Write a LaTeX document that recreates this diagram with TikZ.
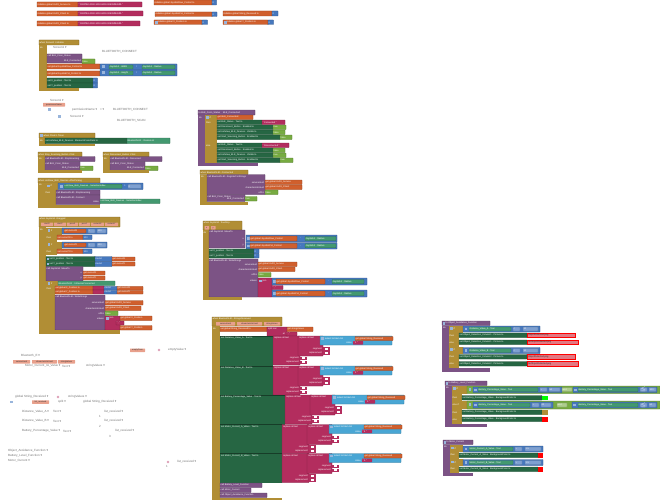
\documentclass[tikz,border=0pt]{standalone}
\usepackage{fontspec}
\setmainfont{Liberation Sans}
\newfontfamily\dv{DejaVu Sans}
\definecolor{ctl}{RGB}{177,142,53}
\definecolor{prc}{RGB}{124,83,133}
\definecolor{var}{RGB}{208,95,45}
\definecolor{txt}{RGB}{179,45,94}
\definecolor{mth}{RGB}{70,120,190}
\definecolor{cset}{RGB}{38,102,67}
\definecolor{cget}{RGB}{67,153,112}
\definecolor{lgc}{RGB}{119,171,65}
\definecolor{lst}{RGB}{73,166,212}
\definecolor{prm}{RGB}{232,160,140}
\definecolor{redbox}{RGB}{226,120,130}
\newcounter{bkc}
\tikzset{
 bt/.style={font=\fontsize{2.3}{2.6}\selectfont, text=white, inner sep=0pt, anchor=west},
 gtx/.style={font=\fontsize{3}{3.4}\selectfont, text=black!55, inner sep=0pt, anchor=west},
 ptx/.style={font=\fontsize{2.1}{2.4}\selectfont, text=black!80, inner sep=0pt},
 dtx/.style={font=\fontsize{2.3}{2.6}\selectfont, text=black!80, inner sep=0pt, anchor=west},
}
\newcommand{\Dd}{{\dv\char"25BE}}
\newcommand{\Nd}[3][bt]{\stepcounter{bkc}\node[#1] (b\arabic{bkc}) at #2 {#3};}
\newcommand{\Bk}[6]{\filldraw[fill=#5,draw=#5!72!black,line width=0.25pt,rounded corners=0.4pt] (#1,#2) rectangle ++(#3,#4);\Nd{({#1+0.5},{#2+#4/2})}{#6}}
\newcommand{\Bkt}[6]{\filldraw[fill=#5,draw=#5!72!black,line width=0.25pt,rounded corners=0.4pt] (#1,#2) rectangle ++(#3,#4);\Nd{({#1+0.5},{#2+2.3})}{#6}}
\newcommand{\Sq}[5]{\fill[#5] (#1,#2) rectangle ++(#3,#4);}
\newcommand{\Lr}[3]{\Nd[bt,anchor=east]{(#1,#2)}{#3}}
\newcommand{\Lw}[3]{\Nd{(#1,#2)}{#3}}
\newcommand{\Gt}[3]{\Nd[gtx]{(#1,#2)}{#3}}
\newcommand{\Pb}[4]{\fill[prm,rounded corners=0.4pt] (#1,#2) rectangle ++(#3,3.5);\Nd[ptx]{({#1+#3/2},{#2+1.75})}{#4}}
\newcommand{\Gr}[2]{\fill[mth!55!white] (#1,#2) rectangle ++(2.6,2.6);}
\newcommand{\Rb}[4]{\fill[redbox,draw=red,line width=0.3pt] (#1,#2) rectangle ++(#3,4.5);\Nd[dtx]{({#1+0.8},{#2+2.25})}{#4}}
% group: y0, label, xm, index, height
\newcommand{\Grp}[5]{%
 \fill[cset] (220,#1) rectangle (#3,{#1+#5});
 \draw[cset!60!black,line width=0.25pt] (220,#1) -- (#3,#1);
 \Nd{(221,{#1+2.3})}{#2}
 \filldraw[fill=txt,draw=txt!72!black,line width=0.25pt,rounded corners=0.4pt] (#3,#1) rectangle ({#3+27},{#1+29});
 \Nd{({#3+1},{#1+2.3})}{replace all text}
 \Nd[bt,anchor=east]{({#3+26},{#1+22.2})}{segment}
 \Nd[bt,anchor=east]{({#3+26},{#1+26.2})}{replacement}
 \fill[txt] ({#3+27},{#1+20.5}) rectangle ++(7,3.5);
 \fill[white] ({#3+29},{#1+21.2}) rectangle ++(2.6,2.1);
 \fill[txt] ({#3+27},{#1+24.5}) rectangle ++(7,3.5);
 \fill[white] ({#3+29},{#1+25.2}) rectangle ++(2.6,2.1);
 \filldraw[fill=txt,draw=txt!72!black,line width=0.25pt,rounded corners=0.4pt] ({#3+25},#1) rectangle ({#3+50},{#1+20});
 \Nd{({#3+26},{#1+2.3})}{replace all text}
 \Nd[bt,anchor=east]{({#3+49},{#1+12.7})}{segment}
 \Nd[bt,anchor=east]{({#3+49},{#1+16.7})}{replacement}
 \fill[txt] ({#3+50},{#1+11}) rectangle ++(7,3.5);
 \fill[white] ({#3+52},{#1+11.7}) rectangle ++(2.6,2.1);
 \fill[txt] ({#3+50},{#1+15}) rectangle ++(7,3.5);
 \fill[white] ({#3+52},{#1+15.7}) rectangle ++(2.6,2.1);
 \filldraw[fill=lst,draw=lst!72!black,line width=0.25pt,rounded corners=0.4pt] ({#3+47},#1) rectangle ({#3+119},{#1+9});
 \fill[mth!55!white] ({#3+48},{#1+1}) rectangle ++(2.6,2.6);
 \Nd{({#3+52},{#1+2.3})}{select list item  list}
 \Nd[bt,anchor=east]{({#3+79},{#1+6.8})}{index}
 \filldraw[fill=var,draw=var!72!black,line width=0.25pt,rounded corners=0.4pt] ({#3+82},{#1+0.5}) rectangle ++(38,4);
 \Nd{({#3+82.5},{#1+2.5})}{get global String\_Received}
 \fill[txt,rounded corners=0.4pt] ({#3+80},{#1+5}) rectangle ++(10,3.6);
 \Nd{({#3+80.5},{#1+6.8})}{" #4 "}
}
\begin{document}
\begin{tikzpicture}[x=1pt,y=-1pt]
\useasboundingbox (0,0) rectangle (660,500);
\fill[white] (0,0) rectangle (660,500);

% ---------- top row ----------
\Bk{37}{2}{41}{5}{var}{initialize global UUID\_Service to}
\Bk{78}{2}{64}{5}{txt}{" 0000ffe0-0000-1000-8000-00805f9b34fb "}
\Bk{37}{11}{41}{5}{var}{initialize global UUID\_Char1 to}
\Bk{78}{11}{65}{5}{txt}{" 0000ffe1-0000-1000-8000-00805f9b34fb "}
\Bk{37}{21}{41}{5}{var}{initialize global UUID\_Char2 to}
\Bk{78}{21}{62}{5}{txt}{" 0000ffe2-0000-1000-8000-00805f9b34fb "}
\Bk{154}{0}{58}{5}{var}{initialize global JoystickRow\_Control to}
\Bk{212}{0}{4.5}{5}{mth}{0}
\Bk{155}{12}{57}{4.5}{var}{initialize global JoystickCol\_Control to}
\Bk{212}{12}{5}{4.5}{mth}{0}
\Bk{154}{20}{48}{4.5}{var}{\hspace{3pt}initialize global X\_Position to}\Gr{155}{21}
\Bk{202}{20}{5.5}{4.5}{mth}{0}
\Bk{223}{11}{49}{5}{var}{initialize global String\_Received to}
\Bk{272}{11}{6}{5}{mth}{0}
\Bk{223}{20}{45}{4.5}{var}{\hspace{3pt}initialize global Y\_Position to}\Gr{224}{21}
\Bk{268}{20}{5.5}{4.5}{mth}{0}

% ---------- Screen1.Initialize ----------
\Bk{39}{40}{40}{5}{ctl}{when Screen1 .Initialize}
\Sq{39}{45}{8}{46}{ctl}\Lw{40}{47.5}{do}
\Bkt{47}{54}{35}{9}{prc}{call BLE\_Conn\_Status}
\Lr{81}{61}{BLE\_Connected}
\Bk{82}{59}{13}{5}{lgc}{false}
\Bk{47}{64}{53}{5}{var}{set global JoystickRow\_Control to}
\Bk{100}{64}{77}{6}{mth}{}\Gr{102}{65.5}
\Bk{109}{65}{24}{4}{cget}{Joystick1 . Width}\Lw{136}{67}{/}
\Bk{142}{65}{33}{4}{cget}{Joystick1 . Radius}
\Bk{47}{71}{53}{5}{var}{set global JoystickCol\_Control to}
\Bk{100}{70}{77}{6}{mth}{}\Gr{102}{71.5}
\Bk{109}{71}{24}{4}{cget}{Joystick1 . Height}\Lw{136}{73}{/}
\Bk{142}{71}{33}{4}{cget}{Joystick1 . Radius}
\Bk{47}{78}{46}{5}{cset}{set X\_position . Text to}
\Bk{93}{78}{4.5}{5}{mth}{0}
\Bk{47}{83}{46}{5}{cset}{set Y\_position . Text to}
\Bk{93}{83}{4.5}{5}{mth}{0}
\Sq{39}{88}{40}{3}{ctl}
\Gt{53}{47.5}{Screen1 \Dd}
\Gt{102}{52}{BLUETOOTH\_CONNECT}

% ghost permission blocks
\Gt{50}{100}{Screen1 \Dd}
\Pb{43}{103}{22}{permissionName}
\Sq{48}{108}{3}{3}{mth!55!white}
\Gt{72}{110}{permissionName \Dd\quad = \Dd}
\Gt{113}{110}{BLUETOOTH\_CONNECT}
\Sq{58}{115}{3}{3}{mth!55!white}
\Gt{70}{116.5}{Screen1 \Dd}
\Gt{117}{121}{BLUETOOTH\_SCAN}

% ---------- Clock1.Timer ----------
\Bk{39}{133}{56}{5}{ctl}{\hspace{4pt}when Clock1 .Timer}\Sq{39.5}{134}{3}{3}{mth!55!white}
\Sq{39}{138}{7}{6}{ctl}\Lw{40}{140.5}{do}
\Bk{45}{138}{82}{5.5}{cset}{set ListView\_BLE\_Devices . ElementsFromPairs to}
\Bk{127}{138}{43}{5.5}{cget}{BluetoothLE1 . DeviceList}
\Sq{39}{143.5}{56}{2.5}{ctl}

% ---------- Stop_Scanning_Button.Click ----------
\Bk{38}{152}{44}{5}{ctl}{when Stop\_Scanning\_Button .Click}
\Sq{38}{157}{7}{15}{ctl}\Lw{39}{159}{do}
\Bk{45}{156.5}{50}{5}{prc}{call BluetoothLE1 .StopScanning}
\Bkt{45}{161.5}{35}{9}{prc}{call BLE\_Conn\_Status}
\Lr{79}{168}{BLE\_Connected}
\Bk{80}{166}{13}{4.5}{lgc}{true}
\Sq{38}{170}{44}{2.5}{ctl}

% ---------- Disconnect_Button.Click ----------
\Bk{103}{152}{46}{5}{ctl}{when Disconnect\_Button .Click}
\Sq{103}{157}{7}{15}{ctl}\Lw{104}{159}{do}
\Bk{110}{156.5}{52}{5}{prc}{call BluetoothLE1 .Disconnect}
\Bkt{110}{161.5}{35}{9}{prc}{call BLE\_Conn\_Status}
\Lr{144}{168}{BLE\_Connected}
\Bk{145}{166}{13}{4.5}{lgc}{false}
\Sq{103}{170}{46}{2.5}{ctl}

% ---------- ListView AfterPicking ----------
\Bk{38}{178}{62}{5}{ctl}{when ListView\_BLE\_Devices .AfterPicking}
\Sq{38}{183}{7}{24}{ctl}\Lw{39}{185}{do}
\Sq{45}{183}{13}{7}{ctl}\Sq{45}{190}{11}{15}{ctl}
\Gr{47}{184.5}\Lw{50.5}{186}{if}\Lw{45.5}{192.5}{then}
\Bk{58}{183}{85}{6.5}{mth}{}\Gr{60}{185}
\Bk{64}{184.2}{58}{4.2}{cget}{ListView\_BLE\_Devices . SelectionIndex}
\Lw{124}{186.3}{>}
\Bk{128}{184.2}{13}{4.2}{mth!70!white}{0}
\Bk{56}{190}{44}{5}{prc}{call BluetoothLE1 .StopScanning}
\Bkt{56}{195}{44}{9.5}{prc}{call BluetoothLE1 .Connect}
\Lr{99}{201.5}{index}
\Bk{100}{199}{60}{4.5}{cget}{ListView\_BLE\_Devices . SelectionIndex}
\Sq{38}{204.5}{62}{3}{ctl}

% ---------- Joystick1.Dragged ----------
\Bkt{39}{217}{81}{10}{ctl}{when Joystick1 .Dragged}
\Pb{41}{222.5}{12}{startX}\Pb{54}{222.5}{12}{startY}\Pb{67}{222.5}{11}{prevX}
\Pb{79}{222.5}{11}{prevY}\Pb{91}{222.5}{13}{currentX}\Pb{105}{222.5}{13}{currentY}
\Sq{39}{227}{7}{107}{ctl}\Lw{40}{229.5}{do}
% if 1
\Sq{46}{227.5}{16}{7}{ctl}\Sq{46}{234.5}{11}{7}{ctl}
\Gr{47.5}{229}\Lw{51}{230.8}{if}\Lw{46.5}{237.3}{then}
\Bk{62}{228}{45}{6}{mth}{}
\Bk{64}{229}{22}{4}{var}{get currentX}
\Bk{88}{229}{7}{4}{mth!70!white}{>}
\Bk{97}{229}{9}{4}{mth!70!white}{100}
\Bk{57}{235}{26}{4.5}{var}{set currentX to}
\Bk{83}{235}{9}{4.5}{mth}{100}
% if 2
\Sq{46}{241.5}{16}{7}{ctl}\Sq{46}{248.5}{11}{6.5}{ctl}
\Gr{47.5}{243}\Lw{51}{244.8}{if}\Lw{46.5}{251.3}{then}
\Bk{62}{242}{45}{6}{mth}{}
\Bk{64}{243}{22}{4}{var}{get currentY}
\Bk{88}{243}{7}{4}{mth!70!white}{>}
\Bk{97}{243}{9}{4}{mth!70!white}{100}
\Bk{57}{249}{26}{4.5}{var}{set currentY to}
\Bk{83}{249}{9}{4.5}{mth}{100}
% set labels
\Bk{46}{256.5}{49}{5}{cset}{\hspace{3pt}set X\_position . Text to}\Gr{46.5}{257.5}
\Bk{95}{256.5}{17}{5}{mth}{round}
\Bk{112}{257}{23}{4}{var}{get currentX}
\Bk{46}{261.5}{49}{5}{cset}{\hspace{3pt}set Y\_position . Text to}\Gr{46.5}{262.5}
\Bk{95}{261.5}{17}{5}{mth}{round}
\Bk{112}{262}{23}{4}{var}{get currentY}
% moveTo
\Bkt{46}{266.5}{37}{14.5}{prc}{call Joystick1 .MoveTo}
\Lr{82}{273}{x}\Lr{82}{278}{y}
\Bk{83}{271}{22}{4}{var}{get currentX}
\Bk{83}{276}{22}{4}{var}{get currentY}
% if 3
\Sq{46}{281}{12}{5}{ctl}\Sq{46}{286}{9}{44}{ctl}
\Gr{47.5}{282}\Lw{51}{283.5}{if}\Lw{46.5}{288.5}{then}
\Bk{58}{281}{57}{4.5}{cget}{BluetoothLE1 . IsDeviceConnected}
\Bk{55}{286}{38}{4}{var}{set global X\_Position to}
\Bk{93}{286}{11}{4}{txt}{}
\Bk{104}{286.3}{13}{3.7}{mth}{round}
\Bk{117}{286.3}{26}{3.7}{var}{get currentX}
\Bk{55}{290}{38}{4}{var}{set global Y\_Position to}
\Bk{93}{290}{11}{4}{txt}{}
\Bk{104}{290.3}{13}{3.7}{mth}{round}
\Bk{117}{290.3}{26}{3.7}{var}{get currentY}
\Bkt{55}{295}{50}{35}{prc}{call BluetoothLE1 .WriteStrings}
\Lr{104}{303}{serviceUuid}
\Lr{104}{308.3}{characteristicUuid}
\Lr{104}{313.3}{utf16}
\Lr{104}{318.5}{values}
\Bk{105}{300.5}{38}{4.5}{var}{get global UUID\_Service}
\Bk{105}{306}{36}{4.5}{var}{get global UUID\_Char1}
\Bk{105}{311}{13}{4.5}{lgc}{false}
\filldraw[fill=txt,draw=txt!72!black,line width=0.25pt,rounded corners=0.4pt] (105,316) rectangle (120,330);
\Gr{106}{317}\Lw{109.5}{318.3}{join}
\Bk{120}{316}{32}{4.5}{var}{get global X\_Position}
\Bk{116}{321}{8}{4}{txt}{" , "}
\Bk{120}{325.5}{32}{4.5}{var}{get global Y\_Position}
\Sq{39}{330}{81}{4}{ctl}

% ---------- BLE_Conn_Status procedure ----------
\Bk{198}{110}{57}{5}{prc}{to BLE\_Conn\_Status \quad BLE\_Connected}
\Sq{198}{115}{7}{51}{prc}\Lw{199}{117.5}{do}
\Sq{205}{115}{12}{48}{ctl}
\Gr{206}{116}\Lw{209.5}{117.5}{if}\Lw{206}{122.5}{then}\Lw{206}{145.5}{else}
\Bk{217}{115}{36}{4.5}{var}{get BLE\_Connected}
\Bk{217}{120}{45}{4.5}{cset}{set BLE\_Status . Text to}
\Bk{262}{120}{23}{4.5}{txt}{" Connected "}
\Bk{217}{125}{56}{4.5}{cset}{set Disconnect\_Button . Enabled to}
\Bk{273}{125}{13}{4.5}{lgc}{true}
\Bk{217}{130}{56}{4.5}{cset}{set ListView\_BLE\_Devices . Visible to}
\Bk{273}{130}{12}{4.5}{lgc}{false}
\Bk{217}{135}{63}{4.5}{cset}{set Start\_Scanning\_Button . Enabled to}
\Bk{280}{135}{12}{4.5}{lgc}{false}
\Bk{217}{143}{45}{4.5}{cset}{set BLE\_Status . Text to}
\Bk{262}{143}{27}{4.5}{txt}{" Disconnected "}
\Bk{217}{148}{56}{4.5}{cset}{set Disconnect\_Button . Enabled to}
\Bk{273}{148}{12}{4.5}{lgc}{false}
\Bk{217}{153}{56}{4.5}{cset}{set ListView\_BLE\_Devices . Visible to}
\Bk{273}{153}{13}{4.5}{lgc}{true}
\Bk{217}{158}{63}{4.5}{cset}{set Start\_Scanning\_Button . Enabled to}
\Bk{280}{158}{13}{4.5}{lgc}{true}
\Sq{198}{162.5}{60}{3.5}{prc}

% ---------- BluetoothLE1.Connected ----------
\Bk{200}{170}{48}{4.5}{ctl}{when BluetoothLE1 .Connected}
\Sq{200}{174.5}{7}{30}{ctl}\Lw{201}{177}{do}
\Bkt{207}{174.5}{58}{20}{prc}{call BluetoothLE1 .RegisterForStrings}
\Lr{264}{182.3}{serviceUuid}
\Lr{264}{187.3}{characteristicUuid}
\Lr{264}{192.3}{utf16}
\Bk{265}{180}{37}{4.5}{var}{get global UUID\_Service}
\Bk{265}{185}{37}{4.5}{var}{get global UUID\_Char2}
\Bk{265}{190}{13}{4.5}{lgc}{false}
\Bkt{207}{194.5}{38}{7}{prc}{call BLE\_Conn\_Status}
\Lr{244}{199.3}{BLE\_Connected}
\Bk{245}{196.5}{12}{4.5}{lgc}{true}
\Sq{200}{201.5}{48}{3}{ctl}

% ---------- Joystick1.TouchUp ----------
\Bkt{203}{221}{39}{9}{ctl}{when Joystick1 .TouchUp}
\Pb{204.5}{226}{4.5}{x}\Pb{211}{226}{4.5}{y}
\Sq{203}{230}{6}{70}{ctl}\Lw{203.5}{232.5}{do}
\Bkt{209}{230}{36}{18}{prc}{call Joystick1 .MoveTo}
\Lr{244}{238.5}{x}\Lr{244}{245.3}{y}
\Bk{246}{235}{91}{7}{mth}{}\Gr{247}{237}
\Bk{250}{236}{47}{5}{var}{get global JoystickRow\_Control}
\Lw{300}{238.5}{-}
\Bk{305}{236.5}{31}{4}{cget}{Joystick1 . Radius}
\Bk{246}{242.5}{91}{6.5}{mth}{}\Gr{247}{244.5}
\Bk{250}{243.3}{47}{5}{var}{get global JoystickCol\_Control}
\Lw{300}{245.8}{-}
\Bk{305}{243.8}{31}{4}{cget}{Joystick1 . Radius}
\Bk{209}{249}{45}{4.5}{cset}{set X\_position . Text to}
\Bk{254}{249}{5}{4.5}{mth}{0}
\Bk{209}{253.5}{45}{4.5}{cset}{set Y\_position . Text to}
\Bk{254}{253.5}{5}{4.5}{mth}{0}
\Bkt{209}{259}{49}{38}{prc}{call BluetoothLE1 .WriteStrings}
\Lr{257}{264.5}{serviceUuid}
\Lr{257}{269.5}{characteristicUuid}
\Lr{257}{275}{utf16}
\Lr{257}{281}{values}
\Bk{258}{262}{39}{4.5}{var}{get global UUID\_Service}
\Bk{258}{267}{37}{4.5}{var}{get global UUID\_Char1}
\Bk{258}{272.5}{13}{4.5}{lgc}{false}
\filldraw[fill=txt,draw=txt!72!black,line width=0.25pt,rounded corners=0.4pt] (258,278) rectangle (272,297);
\Gr{259}{279.5}\Lw{262.5}{280.8}{join}
\Bk{272}{278}{95}{7}{mth}{}\Gr{273}{280}
\Bk{276}{279}{49}{5}{var}{get global JoystickRow\_Control}
\Lw{328}{281.5}{-}
\Bk{332}{279.5}{32}{4}{cget}{Joystick1 . Radius}
\Bk{272}{285.5}{11}{4}{txt}{" , "}
\Bk{272}{290}{95}{7}{mth}{}\Gr{273}{292}
\Bk{276}{291}{49}{5}{var}{get global JoystickCol\_Control}
\Lw{328}{293.5}{-}
\Bk{332}{291.5}{32}{4}{cget}{Joystick1 . Radius}
\Sq{203}{297}{39}{3}{ctl}

% ---------- BluetoothLE1.StringsReceived ----------
\Bkt{212}{317}{70}{9}{ctl}{when BluetoothLE1 .StringsReceived}
\Pb{216}{322}{19}{serviceUuid}\Pb{237}{322}{25}{characteristicUuid}\Pb{264}{322}{16}{stringValues}
\Sq{212}{326}{8}{174}{ctl}\Lw{213}{328.5}{do}
\Bk{220}{327}{47}{4.5}{var}{set global String\_Received to}
\filldraw[fill=txt,draw=txt!72!black,line width=0.25pt,rounded corners=0.4pt] (267,327) rectangle (287,336);
\Lw{268}{329.3}{split text}\Lr{285}{334}{at}
\Bk{287}{327}{26}{4.5}{var}{get stringValues}
\Bk{286}{332}{11}{4}{txt}{" , "}
\Grp{336}{set Distance\_Value\_A . Text to}{273}{1}{30}
\Grp{366}{set Distance\_Value\_B . Text to}{273}{2}{29}
\Grp{395}{set Battery\_Percentage\_Value . Text to}{285}{3}{29.5}
\Grp{424.5}{set Motor\_Current\_A\_Value . Text to}{282}{4}{29}
\Grp{453.5}{set Motor\_Current\_B\_Value . Text to}{282}{5}{29}
\Bk{220}{483}{42}{4.5}{prc}{call Battery\_Level\_Function}
\Bk{220}{488}{31}{4.5}{prc}{call Motor\_Current}
\Bk{220}{493}{47}{4.5}{prc}{call Object\_Avoidance\_Function}
\Sq{212}{497.5}{70}{2.5}{ctl}

% ---------- Object_Avoidance_Function ----------
\Bk{442}{321}{48}{4.5}{prc}{\hspace{3pt}to Object\_Avoidance\_Function}\Gr{442.5}{322}
\Sq{442}{325.5}{7}{46.5}{prc}\Lw{443}{328}{do}
\Sq{449}{325.5}{14}{7}{ctl}\Sq{449}{332.5}{10}{14}{ctl}
\Sq{449}{346.5}{14}{7}{ctl}\Sq{449}{353.5}{10}{14.5}{ctl}
\Gr{450}{327}\Lw{453.5}{328.8}{if}\Lw{449.5}{335.3}{then}\Lw{449.5}{342.5}{else}
\Gr{450}{348}\Lw{453.5}{349.8}{if}\Lw{449.5}{356.3}{then}\Lw{449.5}{363.8}{else}
\Bk{463}{326}{77}{6}{mth}{}\Gr{464.5}{327.7}
\Bk{469}{327}{42}{4}{cget}{Distance\_Value\_A . Text}
\Bk{513}{327}{7}{4}{mth!70!white}{<}
\Bk{523}{327}{15}{4}{mth!70!white}{10}
\Bk{459}{333}{68}{4.5}{cset}{set Object\_Detection\_Column1 . Picture to}
\Rb{527}{333}{48}{ObjectDetected.png}
\Bk{459}{340}{68}{4.5}{cset}{set Object\_Detection\_Column1 . Picture to}
\Rb{527}{340}{51}{NoObjectDetected.png}
\Bk{463}{347.5}{77}{6}{mth}{}\Gr{464.5}{349.2}
\Bk{469}{348.5}{42}{4}{cget}{Distance\_Value\_B . Text}
\Bk{513}{348.5}{7}{4}{mth!70!white}{<}
\Bk{523}{348.5}{15}{4}{mth!70!white}{10}
\Bk{459}{354.5}{68}{4.5}{cset}{set Object\_Detection\_Column2 . Picture to}
\Rb{527}{354.5}{48}{ObjectDetected.png}
\Bk{459}{361.5}{68}{4.5}{cset}{set Object\_Detection\_Column2 . Picture to}
\Rb{527}{361.5}{51}{NoObjectDetected.png}
\Sq{442}{368}{48}{4}{prc}

% ---------- Battery_Level_Function ----------
\Bk{445}{381}{42}{4.5}{prc}{\hspace{3pt}to Battery\_Level\_Function}\Gr{445.5}{382}
\Sq{445}{385.5}{7}{41.5}{prc}\Lw{446}{388}{do}
\Sq{452}{385.5}{15}{8}{ctl}\Sq{452}{393.5}{10}{7}{ctl}\Sq{452}{400.5}{15}{8.5}{ctl}\Sq{452}{409}{10}{15}{ctl}
\Gr{453}{387}\Lw{456.5}{389}{if}\Lw{452.5}{397.8}{then}\Lw{452.5}{404.5}{else if}
\Lw{452.5}{412.3}{then}\Lw{452.5}{419.3}{else}
\Bk{467}{386}{193}{7.5}{lgc}{}\Gr{468.5}{388}
\Bk{473}{387}{89}{5.5}{mth}{}\Gr{474}{388.5}
\Bk{478}{387.7}{60}{4}{cget}{Battery\_Percentage\_Value . Text}
\Bk{540}{387.7}{7}{4}{mth!70!white}{>}
\Bk{549}{387.7}{11}{4}{mth!70!white}{50}
\Bk{562}{387.7}{10}{4}{lgc!60!white}{and}
\Bk{573}{387}{84}{5.5}{mth}{}\Gr{574}{388.5}
\Bk{578}{387.7}{60}{4}{cget}{Battery\_Percentage\_Value . Text}
\Bk{640}{387.7}{7}{4}{mth!70!white}{\(\le\)}
\Bk{649}{387.7}{7}{4}{mth!70!white}{100}
\Bk{462}{395.5}{80}{4.5}{cset}{set Battery\_Percentage\_Value . BackgroundColor to}
\Sq{542}{395.5}{6}{4.5}{green}
\Bk{467}{401}{193}{8}{lgc}{}\Gr{468.5}{403}
\Bk{473}{402}{80}{6}{mth}{}\Gr{474}{403.5}
\Bk{478}{403}{52}{4}{cget}{Battery\_Percentage\_Value . Text}
\Bk{532}{403}{7}{4}{mth!70!white}{>}
\Bk{541}{403}{10}{4}{mth!70!white}{20}
\Bk{557}{403}{10}{4}{lgc!60!white}{and}
\Bk{572}{402}{85}{6}{mth}{}\Gr{573}{403.5}
\Bk{578}{403}{60}{4}{cget}{Battery\_Percentage\_Value . Text}
\Bk{640}{403}{7}{4}{mth!70!white}{\(\le\)}
\Bk{649}{403}{7}{4}{mth!70!white}{50}
\Bk{462}{410}{80}{4.5}{cset}{set Battery\_Percentage\_Value . BackgroundColor to}
\Sq{542}{410}{5.5}{4.5}{ctl}
\Bk{462}{417}{80}{4.5}{cset}{set Battery\_Percentage\_Value . BackgroundColor to}
\Sq{542}{417}{5.5}{4.5}{red}
\Sq{445}{424}{42}{3}{prc}

% ---------- Motor_Current ----------
\Bk{443}{440}{30}{4.5}{prc}{\hspace{3pt}to Motor\_Current}\Gr{443.5}{441}
\Sq{443}{444.5}{7}{31.5}{prc}\Lw{444}{447}{do}
\Sq{450}{445}{13}{7}{ctl}\Sq{450}{452}{9}{7}{ctl}
\Sq{450}{459}{13}{7}{ctl}\Sq{450}{466}{9}{7}{ctl}
\Gr{451}{446.5}\Lw{454.5}{448.3}{if}\Lw{450.3}{455}{then}
\Gr{451}{460.5}\Lw{454.5}{462.3}{if}\Lw{450.3}{469}{then}
\Bk{463}{446}{80}{6}{mth}{}\Gr{464.5}{447.7}
\Bk{469}{447}{44}{4}{cget}{Motor\_Current\_A\_Value . Text}
\Bk{515}{447}{7}{4}{mth!70!white}{>}
\Bk{525}{447}{16}{4}{mth!70!white}{1.5}
\Bk{459}{453}{79}{4.5}{cset}{set Motor\_Current\_A\_Value . BackgroundColor to}
\Sq{538}{453}{5}{4.5}{red}
\Bk{463}{459.5}{80}{6}{mth}{}\Gr{464.5}{461.2}
\Bk{469}{460.5}{44}{4}{cget}{Motor\_Current\_B\_Value . Text}
\Bk{515}{460.5}{7}{4}{mth!70!white}{>}
\Bk{525}{460.5}{16}{4}{mth!70!white}{1.5}
\Bk{459}{467}{79}{4.5}{cset}{set Motor\_Current\_B\_Value . BackgroundColor to}
\Sq{538}{467}{5}{4.5}{red}
\Sq{443}{473}{30}{3}{prc}

% ---------- ghost texts bottom-left ----------
\Pb{130}{348.5}{15}{emptyCase}
\fill[txt!45!white] (159,350) circle (1.3);
\Gt{168}{350}{emptyValue \Dd}
\Gt{21}{356}{Bluetooth\_E \Dd}
\Pb{13}{360}{17}{serviceUuid}\Pb{32}{360}{25}{characteristicUuid}\Pb{58}{360}{17}{stringValues}
\Gt{25}{366}{Motor\_Current\_IA\_Value \Dd}
\Gt{62}{366}{Text \Dd}
\Gt{86}{366}{stringValues \Dd}
\Gt{15}{397}{global String\_Received \Dd}
\fill[txt!45!white] (58,397) circle (1.3);
\Gt{68}{397}{stringValues \Dd}
\Sq{10}{400.5}{2.5}{2.5}{mth!55!white}
\Pb{32}{400.3}{17}{list\_received}
\Gt{58}{402}{split \Dd}
\Gt{83}{402}{global String\_Received \Dd}
\Gt{22}{411.5}{Distance\_Value\_A \Dd}
\Gt{53}{411.5}{Text \Dd}
\Gt{104}{411.5}{list\_received \Dd}
\Gt{99}{416.5}{1}
\Gt{22}{421}{Distance\_Value\_B \Dd}
\Gt{53}{421}{Text \Dd}
\Gt{104}{421}{list\_received \Dd}
\Gt{99}{426}{2}
\Gt{22}{431}{Battery\_Percentage\_Value \Dd}
\Gt{63}{431}{Text \Dd}
\Gt{115}{431}{list\_received \Dd}
\Gt{109}{436}{3}
\Gt{8}{451}{Object\_Avoidance\_Function \Dd}
\Gt{8}{456}{Battery\_Level\_Function \Dd}
\Gt{8}{461}{Motor\_Current \Dd}
\fill[txt!45!white] (168,462) circle (1.3);
\Gt{177}{462}{list\_received \Dd}
\Gt{166}{466.5}{1}
\end{tikzpicture}
\end{document}
